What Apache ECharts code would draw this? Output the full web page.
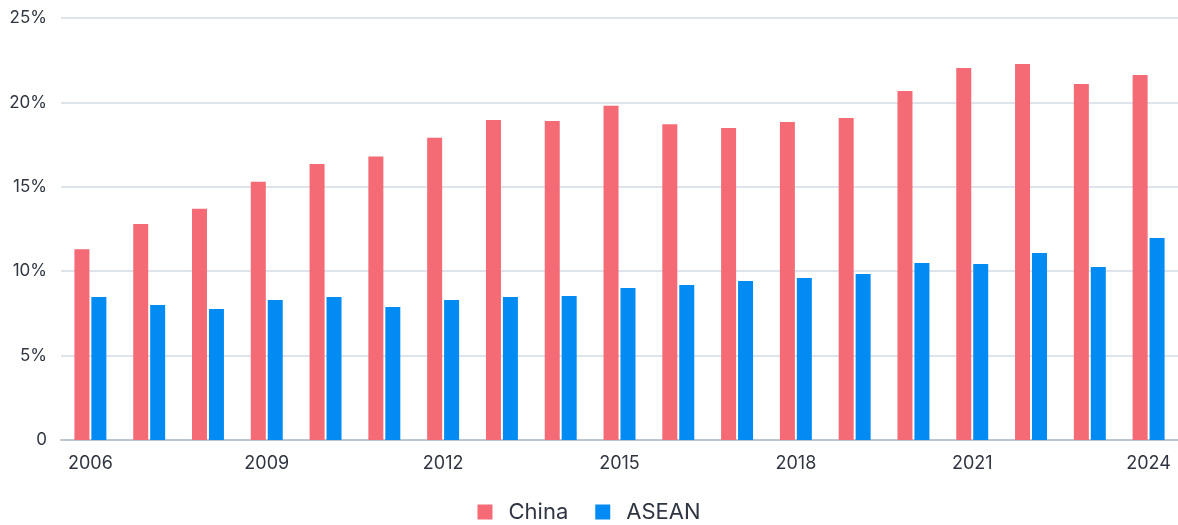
<!DOCTYPE html>
<html>
<head>
<meta charset="utf-8">
<script src="https://cdn.jsdelivr.net/npm/echarts@6/dist/echarts.min.js"></script>
<style>
  html, body { margin: 0; padding: 0; background: #ffffff; }
  #chart { width: 1178px; height: 525px; }
</style>
</head>
<body>
<div id="chart"></div>
<script>
// Share of value (%), by year
const years = ['2006','2007','2008','2009','2010','2011','2012','2013','2014','2015',
               '2016','2017','2018','2019','2020','2021','2022','2023','2024'];
const china = [11.3, 12.8, 13.7, 15.3, 16.35, 16.8, 17.9, 18.95, 18.9, 19.8,
               18.7, 18.48, 18.84, 19.08, 20.68, 22.04, 22.27, 21.09, 21.62];
const asean = [8.47, 8.0, 7.76, 8.29, 8.47, 7.88, 8.29, 8.47, 8.53, 9.0,
               9.18, 9.42, 9.6, 9.83, 10.49, 10.43, 11.08, 10.25, 11.97];
const yTicks = [0, 5, 10, 15, 20, 25];

const textColor = '#2f3641';
const font = 'Inter, "Noto Sans", sans-serif';

const chart = echarts.init(document.getElementById('chart'), null, { renderer: 'canvas' });
chart.setOption({
  animation: false,
  textStyle: { fontFamily: font },
  grid: { left: 61, right: 0, top: 18, bottom: 85, containLabel: false },
  legend: {
    bottom: 2,
    left: 'center',
    padding: 0,
    itemWidth: 15,
    itemHeight: 15,
    itemGap: 27,
    icon: 'rect',
    textStyle: { fontSize: 22, color: textColor, fontFamily: font, padding: [0, 0, 0, 11] },
    data: ['China', 'ASEAN']
  },
  xAxis: {
    type: 'category',
    data: years,
    axisTick: { show: false },
    axisLine: { lineStyle: { color: '#bcc6d1', width: 2 } },
    axisLabel: { interval: 2, color: textColor, fontSize: 18, margin: 15, fontFamily: font }
  },
  yAxis: {
    type: 'value',
    min: yTicks[0],
    max: yTicks[yTicks.length - 1],
    interval: 5,
    axisLine: { show: false },
    axisTick: { show: false },
    splitLine: { lineStyle: { color: '#dde4eb', width: 2 } },
    axisLabel: {
      color: textColor, fontSize: 17, margin: 14, fontFamily: font,
      formatter: v => (v === 0 ? '0' : v + '%')
    }
  },
  series: [
    {
      name: 'China', type: 'bar', data: china,
      itemStyle: { color: '#f46a75' },
      barWidth: 15, barGap: '13%'
    },
    {
      name: 'ASEAN', type: 'bar', data: asean,
      itemStyle: { color: '#028cf3' },
      barWidth: 15, barGap: '13%'
    }
  ]
});
</script>
</body>
</html>
